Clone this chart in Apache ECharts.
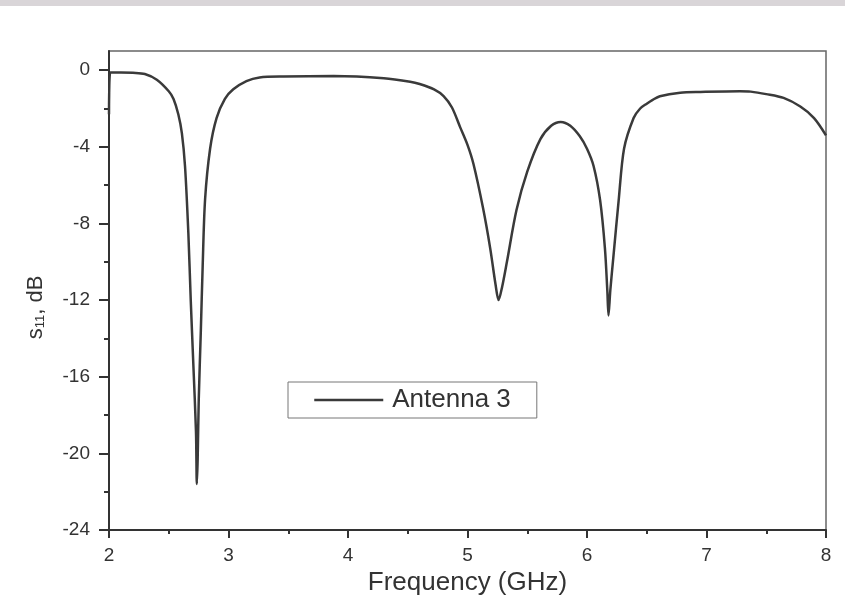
<!DOCTYPE html>
<html>
<head>
<meta charset="utf-8">
<title>Antenna 3 S11</title>
<script src="https://cdn.jsdelivr.net/npm/echarts@6.0.0/dist/echarts.min.js"></script>
<style>
  html, body { margin: 0; padding: 0; background: #fff; }
  #chart { width: 845px; height: 601px; }
</style>
</head>
<body>
<div id="chart"></div>
<script>
// values
const freqGHz = [
  2.00, 2.01, 2.10, 2.20, 2.30, 2.40, 2.50, 2.54, 2.58, 2.61,
  2.636, 2.664, 2.684, 2.706, 2.728, 2.735, 2.742, 2.751, 2.768, 2.784,
  2.804, 2.846, 2.90, 2.97, 3.04, 3.15, 3.26, 3.46, 3.88, 4.30,
  4.52, 4.60, 4.72, 4.80, 4.87, 4.94, 5.00, 5.05, 5.13, 5.19, 5.235, 5.26, 5.29,
  5.33, 5.41, 5.50, 5.61, 5.70, 5.78, 5.86, 5.94, 6.00, 6.055,
  6.11, 6.15, 6.17, 6.18, 6.195, 6.22, 6.265, 6.31, 6.39, 6.445,
  6.50, 6.55, 6.61, 6.78, 6.95, 7.28, 7.37, 7.50, 7.645, 7.785, 7.90,
  8.00
]
const s11dB = [
  -2.3, -0.12, -0.12, -0.14, -0.2, -0.5, -1.1, -1.5, -2.3, -3.3,
  -5.0, -8.5, -12.0, -15.4, -18.9, -21.6, -20.3, -17.2, -13.7, -10.2,
  -6.75, -4.1, -2.5, -1.5, -1.0, -0.57, -0.38, -0.33, -0.31, -0.42,
  -0.6, -0.72, -1.0, -1.35, -1.95, -3.0, -3.9, -4.9, -7.2, -9.3, -11.2, -12.0, -11.3,
  -10.0, -7.3, -5.3, -3.6, -2.9, -2.7, -2.9, -3.45, -4.1, -5.0,
  -6.8, -9.3, -11.5, -12.8, -11.5, -9.8, -6.8, -4.1, -2.5, -2.0,
  -1.75, -1.55, -1.36, -1.18, -1.14, -1.1, -1.12, -1.25, -1.45, -1.9, -2.5,
  -3.4
]
const yMajorTicks = [-24, -20, -16, -12, -8, -4, 0]
const yMinorTicks = [-22, -18, -14, -10, -6, -2]
const xMinorTicks = [2.5, 3.5, 4.5, 5.5, 6.5, 7.5]

const fontFamily = '"Liberation Sans", Arial, sans-serif'
const axisColor = '#333'

const chart = echarts.init(document.getElementById('chart'))

chart.setOption({
  animation: false,
  backgroundColor: '#fff',
  graphic: [{
    type: 'rect',
    shape: { x: 0, y: 0, width: 845, height: 6 },
    style: { fill: '#d9d5d8' },
    silent: true
  }],
  grid: {
    left: 109,
    right: 19,
    top: 51,
    bottom: 70,
    show: true,
    borderColor: '#666',
    borderWidth: 1.5
  },
  legend: {
    left: 288,
    top: 382,
    padding: [5, 26, 5, 25],
    borderColor: '#777',
    borderWidth: 1,
    itemWidth: 69,
    itemHeight: 14,
    itemStyle: { opacity: 0 },
    lineStyle: { color: '#3a3a3a', width: 2.5 },
    textStyle: {
      fontFamily,
      fontSize: 26,
      color: '#333',
      padding: [0, 0, 0, 4]
    },
    data: ['Antenna 3']
  },
  xAxis: [{
    type: 'value',
    min: 2,
    max: 8,
    interval: 1,
    name: 'Frequency (GHz)',
    nameLocation: 'middle',
    nameGap: 40,
    nameTextStyle: { fontFamily, fontSize: 26, color: '#333' },
    axisLine: { onZero: false, lineStyle: { color: axisColor, width: 2 } },
    axisTick: { length: 8, lineStyle: { color: axisColor, width: 2 } },
    axisLabel: { margin: 16, fontFamily, fontSize: 19, color: '#333' },
    splitLine: { show: false }
  }, {
    type: 'value',
    position: 'bottom',
    min: 2,
    max: 8,
    axisLine: { show: false, onZero: false },
    axisTick: {
      length: 4,
      customValues: xMinorTicks,
      lineStyle: { color: axisColor, width: 2 }
    },
    axisLabel: { show: false },
    splitLine: { show: false }
  }],
  yAxis: [{
    type: 'value',
    min: -24,
    max: 1,
    name: '{t|s}{sub|11}{t|, dB}',
    nameLocation: 'middle',
    nameRotate: 90,
    nameGap: 62,
    nameTextStyle: {
      padding: [0, 34, 0, 0],
      rich: {
        t: { fontFamily, fontSize: 22, color: '#333' },
        sub: { fontFamily, fontSize: 13, color: '#333', padding: [10, 0, 0, 0] }
      }
    },
    axisLine: { onZero: false, lineStyle: { color: axisColor, width: 2 } },
    axisTick: {
      length: 10,
      customValues: yMajorTicks,
      lineStyle: { color: axisColor, width: 2 }
    },
    axisLabel: {
      margin: 19,
      customValues: yMajorTicks,
      fontFamily,
      fontSize: 19,
      color: '#333'
    },
    splitLine: { show: false }
  }, {
    type: 'value',
    position: 'left',
    min: -24,
    max: 1,
    axisLine: { show: false, onZero: false },
    axisTick: {
      length: 5,
      customValues: yMinorTicks,
      lineStyle: { color: axisColor, width: 2 }
    },
    axisLabel: { show: false },
    splitLine: { show: false }
  }],
  series: [{
    name: 'Antenna 3',
    type: 'line',
    xAxisIndex: 0,
    yAxisIndex: 0,
    symbol: 'none',
    smooth: 0.3,
    lineStyle: { color: '#3a3a3a', width: 2.5 },
    itemStyle: { color: '#3a3a3a' },
    data: freqGHz.map((f, i) => [f, s11dB[i]])
  }]
})
</script>
</body>
</html>
